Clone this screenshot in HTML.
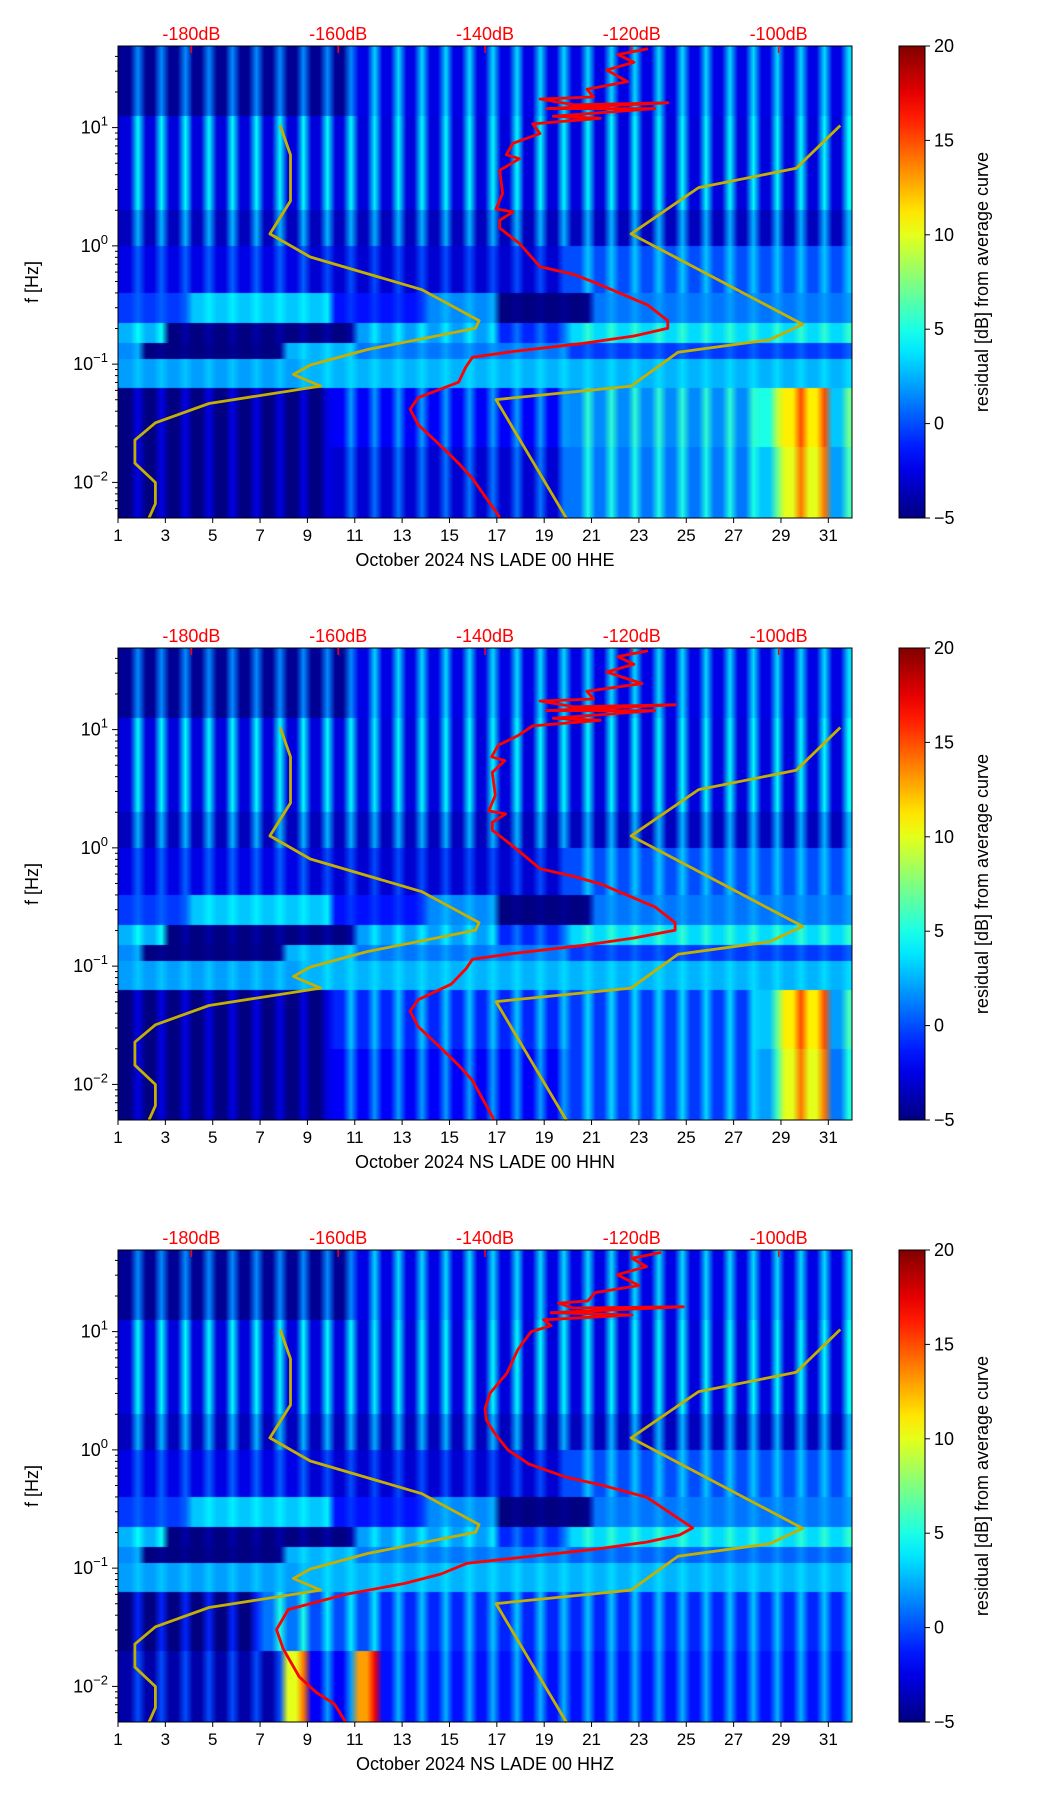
<!DOCTYPE html>
<html><head><meta charset="utf-8">
<style>
html,body{margin:0;padding:0;background:#fff;}
#root{position:relative;width:1052px;height:1806px;overflow:hidden;font-family:"Liberation Sans",sans-serif;}
canvas{position:absolute;}
svg{position:absolute;left:0;top:0;}
</style></head>
<body>
<div id="root">
<svg id="fig" width="1052" height="1806"></svg>
</div>
<script>
// ---- data ----
const days = Array.from({length:31},(_,i)=>i+1);
const xTickDays = [1,3,5,7,9,11,13,15,17,19,21,23,25,27,29,31];
const dbTicks = [-180,-160,-140,-120,-100];
const yTickExp = [1,0,-1,-2];
const cbTicks = [-5,0,5,10,15,20];
const rowEdges = [1.69,1.1,0.3,0.0,-0.4,-0.65,-0.82,-0.96,-1.2,-1.7,-2.31];
const rowAmp = [3,3.5,3,1.5,0.5,1,0.5,0.5,2,2];
const hheRows = [
 [[10,-1.5],[21,0.5]],
 [[31,0.8]],
 [[31,-0.5]],
 [[8,-1],[11,-1.5],[12,1.5]],
 [[3,0],[6,3.5],[4,-1],[3,2],[4,-5],[11,1.5]],
 [[2,3.5],[8,-5],[6,3],[3,0],[12,4.5]],
 [[1,2],[6,-5],[3,3],[9,1.5],[12,0]],
 [[8,2.5],[23,3]],
 [[9,-4.5],[10,0],[8,3.5],[1,7],[2,13],[1,5]],
 [[9,-4.5],[10,-1],[8,3],[1,5],[2,12],[1,4]]
];
const hhnRows = [
 [[10,-1.5],[21,0.5]],
 [[31,0.8]],
 [[31,-0.5]],
 [[8,-1],[11,-1.5],[12,1.5]],
 [[3,0],[6,3.5],[4,-1],[3,2],[4,-5],[11,1.5]],
 [[2,3.5],[8,-5],[6,3],[3,0],[12,4.5]],
 [[1,2],[6,-5],[3,3],[9,1.5],[12,0]],
 [[8,2.5],[23,3]],
 [[9,-4.5],[10,1],[8,1.5],[1,5],[2,13],[1,4]],
 [[9,-4.5],[10,0],[8,1.5],[1,4],[2,12],[1,3]]
];
const hhzRows = [
 [[10,-1.5],[21,0.5]],
 [[31,0.8]],
 [[31,-0.5]],
 [[8,-1],[11,-1.5],[12,1.5]],
 [[3,0],[6,3.5],[4,-1],[3,2],[4,-5],[11,1.5]],
 [[2,3.5],[8,-5],[6,3],[3,0],[12,4.5]],
 [[1,2],[6,-5],[3,3],[9,1.5],[12,1]],
 [[8,2.5],[23,3]],
 [[6,-3],[2,3],[3,2],[20,1]],
 [[7,-2],[1,12],[2,0],[1,15],[20,0.5]]
];
// red curve: dB values and log10 frequencies
const redDbE = [-117.8,-121.9,-119.7,-123.4,-120.6,-126.1,-125.2,-132.5,-127.9,-115.1,-131.6,-116.9,-130.7,-124.3,-133.5,-132.5,-136.2,-137.1,-135.3,-138.0,-137.6,-138.5,-136.2,-138.0,-138.0,-135.3,-132.5,-127.9,-125.2,-121.5,-117.8,-115.1,-115.1,-119.7,-127.0,-136.2,-141.7,-142.6,-143.6,-149.1,-150.2,-149.1,-146.3,-143.6,-141.7,-138.0];
const redLfE = [1.666,1.617,1.552,1.487,1.389,1.324,1.259,1.242,1.193,1.210,1.161,1.161,1.096,1.079,1.031,0.949,0.867,0.770,0.737,0.639,0.444,0.313,0.287,0.216,0.150,0.020,-0.176,-0.241,-0.306,-0.404,-0.501,-0.632,-0.697,-0.762,-0.827,-0.893,-0.941,-1.023,-1.153,-1.284,-1.381,-1.512,-1.675,-1.838,-1.968,-2.294];
const redDbN = [-117.8,-121.9,-119.7,-123.4,-118.6,-126.1,-125.2,-132.5,-127.9,-114.1,-131.6,-116.9,-130.7,-124.3,-133.5,-135.5,-138.2,-139.1,-137.3,-139.0,-138.6,-139.5,-137.2,-139.0,-139.0,-136.3,-132.5,-127.9,-124.2,-120.5,-116.8,-114.1,-114.1,-119.7,-127.0,-136.2,-141.7,-142.6,-144.6,-149.1,-150.2,-149.1,-146.3,-143.6,-141.7,-138.8];
const redLfN = redLfE;
const redDbZ = [-116.0,-120.0,-118.0,-122.0,-119.0,-125.0,-126.0,-130.0,-128.0,-113.0,-131.0,-120.0,-132.0,-131.0,-133.7,-135.5,-137.0,-139.3,-140.0,-139.8,-138.8,-136.9,-134.0,-129.0,-124.0,-118.0,-111.7,-113.5,-118.0,-125.0,-132.3,-142.5,-146.0,-151.0,-158.9,-166.8,-168.4,-167.5,-165.3,-163.0,-160.5,-159.0];
const redLfZ = [1.67,1.62,1.55,1.48,1.39,1.33,1.26,1.24,1.20,1.21,1.16,1.14,1.10,1.05,1.00,0.85,0.65,0.48,0.35,0.25,0.15,0.00,-0.12,-0.23,-0.30,-0.40,-0.66,-0.72,-0.78,-0.84,-0.89,-0.96,-1.05,-1.13,-1.22,-1.35,-1.52,-1.68,-1.92,-2.05,-2.15,-2.30];
const nlnmDb = [-167.9,-166.5,-166.5,-169.3,-163.8,-148.6,-140.8,-141.3,-156.0,-163.8,-166.1,-162.4,-177.6,-184.9,-187.7,-187.7,-184.9,-184.9,-185.8];
const nlnmLf = [1.018,0.770,0.379,0.101,-0.094,-0.371,-0.632,-0.697,-0.876,-1.007,-1.088,-1.186,-1.333,-1.496,-1.642,-1.838,-2.001,-2.180,-2.304];
const nhnmDb = [-91.6,-97.6,-110.9,-120.1,-96.7,-101.3,-113.7,-120.1,-138.5,-128.9];
const nhnmLf = [1.018,0.656,0.493,0.101,-0.664,-0.795,-0.899,-1.186,-1.300,-2.304];
const panels = [
 {top:46, title:"October 2024 NS LADE 00 HHE", rows:hheRows, rdb:redDbE, rlf:redLfE, id:"hhe"},
 {top:648, title:"October 2024 NS LADE 00 HHN", rows:hhnRows, rdb:redDbN, rlf:redLfN, id:"hhn"},
 {top:1250, title:"October 2024 NS LADE 00 HHZ", rows:hhzRows, rdb:redDbZ, rlf:redLfZ, id:"hhz"}
];
// ---- geometry ----
const AX_L=118, AX_R=852, AX_H=472, CB_L=899, CB_R=925;
const X0=1, X1=32, LF_TOP=1.69, LF_BOT=-2.301, DB0=-190, DB1=-90, CMIN=-5, CMAX=20;
const xs = d => AX_L + (d-X0)/(X1-X0)*(AX_R-AX_L);
const xdb = v => AX_L + (v-DB0)/(DB1-DB0)*(AX_R-AX_L);
const ylf = (top,lf) => top + (LF_TOP-lf)/(LF_TOP-LF_BOT)*AX_H;
function jet(v){
  let t=Math.max(0,Math.min(1,(v-CMIN)/(CMAX-CMIN)));
  const c=x=>Math.round(255*Math.max(0,Math.min(1,x)));
  return `rgb(${c(1.5-Math.abs(4*t-3))},${c(1.5-Math.abs(4*t-2))},${c(1.5-Math.abs(4*t-1))})`;
}
const NS="http://www.w3.org/2000/svg";
const svg=document.getElementById('fig');
const root=document.getElementById('root');
function el(tag,attrs,parent,text){const e=document.createElementNS(NS,tag);for(const k in attrs)e.setAttribute(k,attrs[k]);if(text!==undefined)e.textContent=text;(parent||svg).appendChild(e);return e;}
function expand(runs){const out=[];runs.forEach(r=>{for(let i=0;i<r[0];i++)out.push(r[1]);});return out;}

panels.forEach(p=>{
  const T=p.top;
  const cv=document.createElement('canvas');
  cv.width=AX_R-AX_L; cv.height=AX_H;
  cv.style.left=AX_L+'px'; cv.style.top=T+'px';
  
  
  root.insertBefore(cv, svg);
  const ctx=cv.getContext('2d');
  p.rows.forEach((runs,ri)=>{
    const vals=expand(runs), amp=rowAmp[ri];
    const sm=document.createElement('canvas'); sm.width=93; sm.height=1;
    const sc=sm.getContext('2d');
    vals.forEach((v,di)=>{
      sc.fillStyle=jet(v-amp); sc.fillRect(di*3,0,2,1);
      sc.fillStyle=jet(v+amp); sc.fillRect(di*3+2,0,1,1);
    });
    const y0=ylf(0,rowEdges[ri]), y1=ylf(0,rowEdges[ri+1]);
    ctx.imageSmoothingEnabled=true;
    ctx.drawImage(sm,0,0,93,1,xs(1)-AX_L,y0,xs(32)-xs(1),y1-y0+1);
  });
  const g=el('g',{});
  
  
  const line=(dbs,lfs,color,w,name)=>{
    const pts=dbs.map((d,i)=>xdb(d).toFixed(1)+','+ylf(T,lfs[i]).toFixed(1)).join(' ');
    const pl=el('polyline',{points:pts,fill:'none',stroke:color,'stroke-width':w,'stroke-linejoin':'round'},g);
    
    
  };
  line(nlnmDb,nlnmLf,'#c4b000',2.8,p.id+'-nlnm-curve');
  line(nhnmDb,nhnmLf,'#c4b000',2.8,p.id+'-nhnm-curve');
  line(p.rdb,p.rlf,'#ff0000',2.8,p.id+'-psd-curve');
  const fr=el('rect',{x:AX_L,y:T,width:AX_R-AX_L,height:AX_H,fill:'none',stroke:'#000','stroke-width':1},g);
  
  
  xTickDays.forEach(d=>{
    const x=xs(d);
    el('line',{x1:x,x2:x,y1:T+AX_H,y2:T+AX_H+5,stroke:'#000'},g);
    const t=el('text',{x:x,y:T+AX_H+23,'font-size':17,'text-anchor':'middle'},g,String(d));
    
    
  });
  const xt=el('text',{x:(AX_L+AX_R)/2,y:T+AX_H+48,'font-size':18,'text-anchor':'middle'},g,p.title);
  
  
  dbTicks.forEach(v=>{
    const x=xdb(v);
    el('line',{x1:x,x2:x,y1:T,y2:T+7,stroke:'#ff0000','stroke-width':1.5},g);
    const t=el('text',{x:x,y:T-6,'font-size':18,'text-anchor':'middle',fill:'#ff0000'},g,v+'dB');
    
    
  });
  yTickExp.forEach(e=>{
    const y=ylf(T,e);
    el('line',{x1:AX_L-6,x2:AX_L,y1:y,y2:y,stroke:'#000'},g);
    const t=el('text',{x:AX_L-10,y:y+6,'font-size':18,'text-anchor':'end'},g);
    
    
    el('tspan',{},t,'10');
    el('tspan',{dy:-8,'font-size':13},t,e<0?'\u2212'+(-e):String(e));
  });
  for(let e=-3;e<=1;e++){for(let m=2;m<=9;m++){
    const lf=e+Math.log10(m); if(lf>LF_TOP||lf<LF_BOT)continue;
    const y=ylf(T,lf); el('line',{x1:AX_L-3,x2:AX_L,y1:y,y2:y,stroke:'#000'},g);
  }}
  const yt=el('text',{x:0,y:0,'font-size':18,'text-anchor':'middle',transform:`translate(38,${T+AX_H/2}) rotate(-90)`},g,'f [Hz]');
  
  
  const gid='cbg'+p.id;
  const defs=el('defs',{},g);
  const lg=el('linearGradient',{id:gid,x1:0,y1:1,x2:0,y2:0},defs);
  for(let i=0;i<=20;i++){const v=CMIN+(CMAX-CMIN)*i/20;el('stop',{offset:i/20,'stop-color':jet(v)},lg);}
  const cb=el('rect',{x:CB_L,y:T,width:CB_R-CB_L,height:AX_H,fill:`url(#${gid})`,stroke:'#000','stroke-width':1},g);
  
  
  cbTicks.forEach(v=>{
    const y=T+AX_H-(v-CMIN)/(CMAX-CMIN)*AX_H;
    el('line',{x1:CB_R,x2:CB_R+5,y1:y,y2:y,stroke:'#000'},g);
    const t=el('text',{x:CB_R+9,y:y+6,'font-size':18},g,v<0?'\u2212'+(-v):String(v));
    
    
  });
  const ct=el('text',{x:0,y:0,'font-size':18,'text-anchor':'middle',transform:`translate(988,${T+AX_H/2}) rotate(-90)`},g,'residual [dB] from average curve');
  
  
});
</script>
</body></html>
